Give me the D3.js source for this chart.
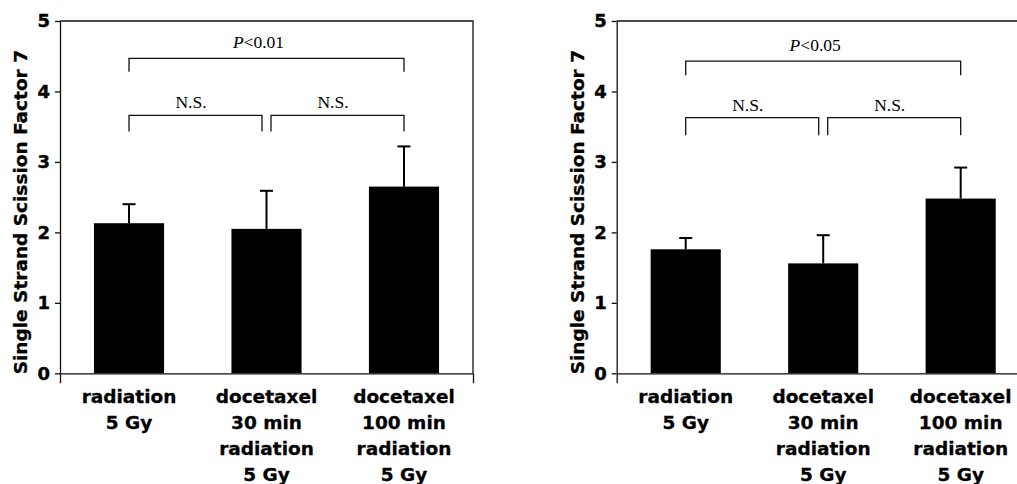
<!DOCTYPE html>
<html>
<head>
<meta charset="utf-8">
<script src="https://cdn.jsdelivr.net/npm/d3@7"></script>
<style>
  body { margin: 0; background: #fff; }
  svg { display: block; }
</style>
</head>
<body>
<div id="chart"></div>
<script>
// data
let categories = [
  ["radiation", "5 Gy"],
  ["docetaxel", "30 min", "radiation", "5 Gy"],
  ["docetaxel", "100 min", "radiation", "5 Gy"]
]
let yTicks = [0, 1, 2, 3, 4, 5]
let yLabel = "Single Strand Scission Factor 7"

let meansLeft = [2.13, 2.05, 2.65]
let sdLeft = [0.27, 0.54, 0.57]
let meansRight = [1.76, 1.56, 2.48]
let sdRight = [0.16, 0.40, 0.44]

// comparisons: [from bar, to bar, p-prefix, label text, bracket level, leg end]
let compLeft = [
  [0, 2, "P", "<0.01", 4.47, 4.28],
  [0, 1, "", "N.S.", 3.66, 3.43],
  [1, 2, "", "N.S.", 3.66, 3.43]
]
let compRight = [
  [0, 2, "P", "<0.05", 4.43, 4.23],
  [0, 1, "", "N.S.", 3.63, 3.38],
  [1, 2, "", "N.S.", 3.63, 3.38]
]

let width = 1017
    height = 484

let svg = d3.select("#chart")
  .append("svg")
    .attr("width", width)
    .attr("height", height)

let sans = "'DejaVu Sans', sans-serif"
let serif = "'Liberation Serif', 'Times New Roman', serif"

function drawPanel(x0, means, sd, comps) {
  let g = svg.append("g")

  let x = d3.scaleBand()
    .domain(d3.range(means.length))
    .range([x0, x0 + 413])
    .paddingInner(0.49)
    .paddingOuter(0.247)

  let y = d3.scaleLinear()
    .domain([0, 5])
    .range([373.3, 21])

  // bars
  g.selectAll("rect.bar")
    .data(means)
    .enter()
    .append("rect")
      .attr("class", "bar")
      .attr("x", (d, i) => x(i))
      .attr("y", d => y(d))
      .attr("width", x.bandwidth())
      .attr("height", d => y(0) - y(d))
      .attr("fill", "#000")

  // upper error bars
  let cx = i => x(i) + x.bandwidth() / 2
  g.selectAll("line.err")
    .data(means)
    .enter()
    .append("line")
      .attr("x1", (d, i) => cx(i))
      .attr("x2", (d, i) => cx(i))
      .attr("y1", d => y(d))
      .attr("y2", (d, i) => y(d + sd[i]))
      .attr("stroke", "#000")
      .attr("stroke-width", 2)
  g.selectAll("line.cap")
    .data(means)
    .enter()
    .append("line")
      .attr("x1", (d, i) => cx(i) - 6.5)
      .attr("x2", (d, i) => cx(i) + 6.5)
      .attr("y1", (d, i) => y(d + sd[i]))
      .attr("y2", (d, i) => y(d + sd[i]))
      .attr("stroke", "#000")
      .attr("stroke-width", 2)

  // frame: top and right
  let r = x.range()
  g.append("path")
    .attr("d", "M" + r[0] + "," + y(5) + "H" + r[1] + "V" + y(0))
    .attr("fill", "none")
    .attr("stroke", "#111")
    .attr("stroke-width", 1.3)

  // y axis
  let yAxis = g.append("g")
    .attr("transform", "translate(" + r[0] + ",0)")
    .call(d3.axisLeft(y).tickValues(yTicks).tickFormat(d3.format("d")).tickSize(5).tickSizeOuter(0).tickPadding(5))
  yAxis.selectAll("text")
    .style("font-family", sans)
    .style("font-weight", "bold")
    .style("font-size", "18px")
    .attr("fill", "#000")
    .attr("stroke", "#000")
    .attr("stroke-width", 0.4)
  yAxis.selectAll("path, line").attr("stroke", "#111").attr("stroke-width", 1.3)

  // x axis with multi-line labels
  let xAxis = g.append("g")
    .attr("transform", "translate(0," + y(0) + ")")
    .call(d3.axisBottom(x).tickSize(0).tickSizeOuter(10).tickPadding(17))
  xAxis.selectAll("path").attr("stroke", "#111").attr("stroke-width", 1.3)
  xAxis.selectAll("text")
    .text(null)
    .style("font-family", sans)
    .style("font-weight", "bold")
    .style("font-size", "18.5px")
    .attr("fill", "#000")
    .attr("stroke", "#000")
    .attr("stroke-width", 0.3)
    .each(function(d) {
      let t = d3.select(this)
      categories[d].forEach((line, j) => {
        let s = t.append("tspan").attr("x", 0).text(line)
        if (j > 0) s.attr("dy", "1.4em")
      })
    })

  // y axis title
  g.append("text")
    .attr("transform", "translate(" + (r[0] - 33) + "," + (y(0) + 1) + ") rotate(-90)")
    .attr("text-anchor", "start")
    .style("font-family", sans)
    .style("font-weight", "bold")
    .style("font-size", "18.5px")
    .attr("fill", "#000")
    .attr("stroke", "#000")
    .attr("stroke-width", 0.3)
    .text(yLabel)

  // significance brackets
  comps.forEach(c => {
    let a = cx(c[0]), b = cx(c[1])
    if (c[0] === 1) a += 4.5
    if (c[1] === 1) b -= 4.5
    g.append("path")
      .attr("d", "M" + a + "," + y(c[5]) + "V" + y(c[4]) + "H" + b + "V" + y(c[5]))
      .attr("fill", "none")
      .attr("stroke", "#111")
      .attr("stroke-width", 1.3)
    // labels sit a little left of the bracket centre in the original
    let t = g.append("text")
      .attr("x", (a + b) / 2 - (c[2] ? 8 : 4.5))
      .attr("y", y(c[4]) - (c[2] ? 10 : 7))
      .attr("text-anchor", "middle")
      .style("font-family", serif)
      .style("font-size", "17.5px")
      .attr("fill", "#000")
    if (c[2]) t.append("tspan").style("font-style", "italic").text(c[2])
    t.append("tspan").text(c[3])
  })
}

drawPanel(60, meansLeft, sdLeft, compLeft)
drawPanel(616.7, meansRight, sdRight, compRight)
</script>
</body>
</html>
